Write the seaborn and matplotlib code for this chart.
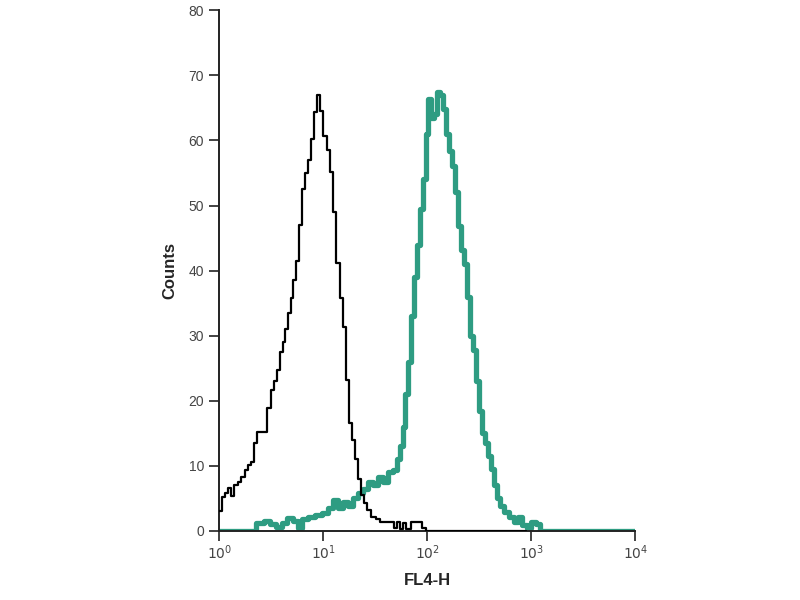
import numpy as np
import pandas as pd
import matplotlib
matplotlib.use("Agg")
import matplotlib.pyplot as plt
import seaborn as sns

# ── Data (x in log10 decades of FL4-H) ───────────────────────────────────────
ctrl_log = [0.000, 0.029, 0.058, 0.087, 0.115, 0.144, 0.183, 0.212, 0.250, 0.279,
            0.308, 0.337, 0.365, 0.462, 0.500, 0.529, 0.558, 0.587, 0.615, 0.635,
            0.663, 0.692, 0.712, 0.740, 0.769, 0.798, 0.827, 0.856, 0.885, 0.913,
            0.942, 0.971, 1.000, 1.038, 1.067, 1.096, 1.125, 1.163, 1.192, 1.221,
            1.250, 1.279, 1.308, 1.337, 1.365, 1.394, 1.423, 1.462, 1.510, 1.548,
            1.683, 1.712, 1.740, 1.769, 1.798, 1.846, 1.952, 1.990, 2.950]
ctrl_counts = [3.0, 5.2, 5.8, 6.6, 5.3, 7.0, 7.5, 8.3, 9.4, 10.2,
               10.6, 13.5, 15.2, 18.9, 21.7, 23.0, 24.8, 27.5, 29.0, 31.0,
               33.5, 35.8, 38.6, 41.4, 47.0, 52.5, 55.0, 57.0, 60.2, 64.3,
               67.0, 64.5, 60.6, 58.6, 55.2, 49.0, 41.2, 35.8, 31.4, 23.2,
               16.6, 14.0, 11.0, 8.0, 5.5, 4.3, 3.2, 2.2, 1.8, 1.4,
               0.4, 1.4, 0.3, 1.2, 0.3, 1.4, 0.5, 0.0, 0.0]

stain_log = [0.000, 0.356, 0.433, 0.490, 0.548, 0.606, 0.654, 0.712, 0.760, 0.798,
             0.856, 0.923, 0.990, 1.048, 1.096, 1.144, 1.192, 1.240, 1.288, 1.337,
             1.385, 1.433, 1.481, 1.529, 1.577, 1.625, 1.673, 1.712, 1.740, 1.769,
             1.788, 1.817, 1.846, 1.875, 1.904, 1.933, 1.962, 1.990, 2.010, 2.038,
             2.067, 2.096, 2.125, 2.154, 2.183, 2.212, 2.240, 2.269, 2.298, 2.327,
             2.356, 2.385, 2.413, 2.442, 2.471, 2.500, 2.529, 2.558, 2.587, 2.615,
             2.644, 2.673, 2.702, 2.740, 2.788, 2.837, 2.875, 2.913, 2.962, 3.000,
             3.048, 3.087, 4.000]
stain_counts = [0.0, 1.2, 1.6, 1.0, 0.6, 1.2, 2.0, 1.6, 0.4, 1.8,
                2.2, 2.4, 2.8, 3.5, 4.8, 3.6, 4.4, 3.8, 5.0, 5.8,
                6.4, 7.6, 7.0, 8.3, 7.6, 9.0, 9.4, 11.0, 13.0, 16.0,
                21.0, 26.0, 33.0, 39.0, 44.0, 49.4, 54.0, 61.0, 66.3, 63.5,
                64.0, 67.5, 67.0, 64.8, 61.0, 58.3, 56.0, 52.0, 46.8, 43.2,
                41.0, 36.0, 30.0, 27.8, 23.0, 18.5, 15.0, 13.5, 11.5, 9.5,
                7.0, 5.0, 3.8, 2.9, 2.2, 1.4, 2.2, 0.9, 0.5, 1.4,
                1.0, 0.0, 0.0]

Y_TICKS = [0, 10, 20, 30, 40, 50, 60, 70, 80]
X_TICKS = [1, 10, 100, 1000, 10000]
X_LABELS = ["$10^0$", "$10^1$", "$10^2$", "$10^3$", "$10^4$"]

TEAL = "#2e9c82"

# ── Style ─────────────────────────────────────────────────────────────────────
sns.set_style("ticks")
plt.rcParams["font.family"] = ["Liberation Sans Narrow", "Liberation Sans", "DejaVu Sans"]

ctrl = pd.DataFrame({"fl": np.power(10.0, ctrl_log), "counts": ctrl_counts})
stain = pd.DataFrame({"fl": np.power(10.0, stain_log), "counts": stain_counts})

fig = plt.figure(figsize=(8, 6), dpi=100)
ax = fig.add_axes([0.274, 0.115, 0.520, 0.868])

sns.lineplot(data=stain, x="fl", y="counts", ax=ax, estimator=None, sort=False,
             color=TEAL, linewidth=3.8, drawstyle="steps-post", zorder=2)
sns.lineplot(data=ctrl, x="fl", y="counts", ax=ax, estimator=None, sort=False,
             color="black", linewidth=1.6, drawstyle="steps-post", zorder=3)

ax.set_xscale("log")
ax.set_xlim(1, 10000)
ax.set_ylim(0, 80)
ax.set_xticks(X_TICKS)
ax.set_xticklabels(X_LABELS)
ax.xaxis.set_minor_locator(matplotlib.ticker.NullLocator())
ax.set_yticks(Y_TICKS)

sns.despine(ax=ax)
for side in ["left", "bottom"]:
    ax.spines[side].set_color("#222222")
    ax.spines[side].set_linewidth(1.4)
ax.tick_params(axis="both", length=7, width=1.2, color="#222222",
               labelsize=10, labelcolor="#444444", pad=4)
ax.tick_params(axis="x", pad=2)

ax.set_xlabel("FL4-H", fontsize=12, fontweight="bold", labelpad=8)
ax.set_ylabel("Counts", fontsize=12, fontweight="bold", labelpad=8)

fig.savefig("out.png", dpi=100)
